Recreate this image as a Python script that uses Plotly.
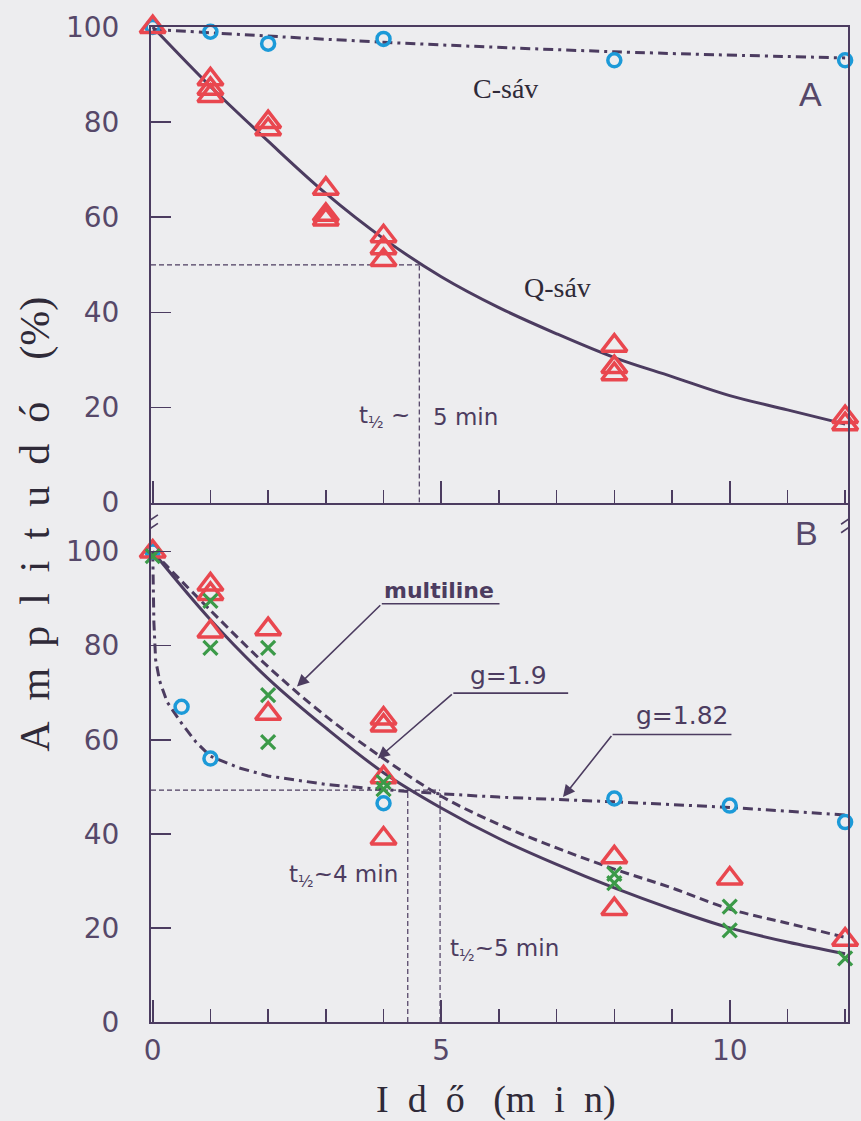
import plotly.graph_objects as go

# ---------------- data ----------------
# Panel A
a_circ_x = [0, 1, 2, 4, 8, 12]
a_circ_y = [100, 99, 96.5, 97.5, 93, 93]
a_tri_x = [0, 1, 1, 1, 2, 2, 3, 3, 3, 4, 4, 4, 8, 8, 8, 12, 12]
a_tri_y = [100, 89, 87, 85.5, 80, 78.5, 66, 60.5, 59.5, 56, 53.5, 51, 33, 28.5, 27, 18, 16.5]
a_cfit_x = [0, 4, 8, 12]
a_cfit_y = [99.5, 96.8, 94.8, 93.5]
a_qfit_x = [0, 1, 2, 3, 4, 5, 6, 7, 8, 9, 10, 11, 12]
a_qfit_y = [100, 87.5, 76, 65, 55.5, 47.5, 41, 35.5, 30.5, 26.5, 22.5, 19.5, 16.5]
a_thalf = 4.62

# Panel B
b_tri_x = [0, 1, 1, 1, 2, 2, 4, 4, 4, 4, 8, 8, 10, 12]
b_tri_y = [100, 93, 91, 83, 83.5, 65.5, 64.5, 63, 52, 39, 35, 24, 30.5, 17.5]
b_x_x = [0, 1, 1, 2, 2, 2, 4, 4, 8, 8, 10, 10, 12]
b_x_y = [99, 89.5, 79.5, 79.5, 69.5, 59.5, 51, 49.5, 31.5, 29.5, 24.5, 19.5, 13.5]
b_circ_x = [0, 0.5, 1, 4, 8, 10, 12]
b_circ_y = [100, 67, 56, 46.5, 47.5, 46, 42.5]
b_g19_x = [0, 1, 2, 3, 4, 5, 6, 7, 8, 9, 10, 11, 12]
b_g19_y = [100, 85.5, 73, 62.5, 53, 45.5, 39, 33.5, 28.5, 24, 20, 17, 14.5]
b_multi_x = [0, 1, 2, 3, 4, 5, 6, 7, 8, 9, 10, 11, 12]
b_multi_y = [100, 87.5, 75.5, 65, 56, 48, 42, 37, 32.5, 28.5, 24, 21, 18]
b_g182_x = [0, 0.02, 0.05, 0.12, 0.25, 0.5, 0.75, 1, 1.5, 2, 3, 4, 5, 6, 8, 10, 12]
b_g182_y = [100, 85, 77, 72.5, 68, 63.5, 59.5, 56.5, 54, 52.3, 50.5, 49.4, 48.5, 47.8, 46.8, 45.6, 44]
b_half_y = 49.3
b_thalf1 = 4.42
b_thalf2 = 4.98

y_ticks = [0, 20, 40, 60, 80, 100]
x_ticks = [0, 5, 10]

# ---------------- styles ----------------
INK = "#4c3c60"
LABEL = "#564869"
DARK = "#2f2a38"
BG = "#ededef"
RED = "#e9474f"
BLUE = "#1c9ad8"
GREEN = "#3b9a48"

fig = go.Figure()

# Panel A curves
fig.add_trace(go.Scatter(x=a_cfit_x, y=a_cfit_y, mode="lines", xaxis="x", yaxis="y",
                         line=dict(color=INK, width=3, dash="10px,5px,3px,5px", shape="spline")))
fig.add_trace(go.Scatter(x=a_qfit_x, y=a_qfit_y, mode="lines", xaxis="x", yaxis="y",
                         line=dict(color=INK, width=3, shape="spline")))
# guide lines A
fig.add_trace(go.Scatter(x=[-0.03, a_thalf], y=[50, 50], mode="lines", xaxis="x", yaxis="y",
                         line=dict(color=INK, width=1.2, dash="5px,3px")))
fig.add_trace(go.Scatter(x=[a_thalf, a_thalf], y=[0, 50], mode="lines", xaxis="x", yaxis="y",
                         line=dict(color=INK, width=1.2, dash="5px,3px")))
# Panel A markers
fig.add_trace(go.Scatter(x=a_circ_x, y=a_circ_y, mode="markers", xaxis="x", yaxis="y", cliponaxis=False,
                         marker=dict(symbol="circle-open", size=13, color=BLUE, line=dict(width=3.5, color=BLUE))))
fig.add_trace(go.Scatter(x=a_tri_x, y=a_tri_y, mode="markers", xaxis="x", yaxis="y", cliponaxis=False,
                         marker=dict(symbol="triangle-up-open", size=22, color=RED, line=dict(width=3.5, color=RED))))

# Panel B curves
fig.add_trace(go.Scatter(x=b_g182_x, y=b_g182_y, mode="lines", xaxis="x2", yaxis="y2",
                         line=dict(color=INK, width=3, dash="10px,5px,3px,5px")))
fig.add_trace(go.Scatter(x=b_multi_x, y=b_multi_y, mode="lines", xaxis="x2", yaxis="y2",
                         line=dict(color=INK, width=3, dash="9px,5px", shape="spline")))
fig.add_trace(go.Scatter(x=b_g19_x, y=b_g19_y, mode="lines", xaxis="x2", yaxis="y2",
                         line=dict(color=INK, width=3, shape="spline")))
# guide lines B
fig.add_trace(go.Scatter(x=[-0.03, b_thalf2], y=[b_half_y, b_half_y], mode="lines", xaxis="x2", yaxis="y2",
                         line=dict(color=INK, width=1.2, dash="5px,3px")))
for tx in (b_thalf1, b_thalf2):
    fig.add_trace(go.Scatter(x=[tx, tx], y=[0, b_half_y], mode="lines", xaxis="x2", yaxis="y2",
                             line=dict(color=INK, width=1.2, dash="5px,3px")))
# Panel B markers
fig.add_trace(go.Scatter(x=b_circ_x, y=b_circ_y, mode="markers", xaxis="x2", yaxis="y2", cliponaxis=False,
                         marker=dict(symbol="circle-open", size=13, color=BLUE, line=dict(width=3.5, color=BLUE))))
fig.add_trace(go.Scatter(x=b_tri_x, y=b_tri_y, mode="markers", xaxis="x2", yaxis="y2", cliponaxis=False,
                         marker=dict(symbol="triangle-up-open", size=22, color=RED, line=dict(width=3.5, color=RED))))
fig.add_trace(go.Scatter(x=b_x_x, y=b_x_y, mode="markers", xaxis="x2", yaxis="y2", cliponaxis=False,
                         marker=dict(symbol="x-thin-open", size=14, color=GREEN, line=dict(width=3.2, color=GREEN))))

tickfont = dict(family="DejaVu Sans", size=28, color=LABEL)
common_x = dict(range=[-0.03, 12.05], showline=True, linecolor=INK, linewidth=2, ticks="inside",
                tickmode="array", tickvals=x_ticks, ticklen=22, tickwidth=1.6, tickcolor=INK,
                minor=dict(dtick=1, ticklen=13, tickwidth=1.6, tickcolor=INK, ticks="inside"),
                showgrid=False, zeroline=False)
common_y = dict(showline=True, linecolor=INK, linewidth=2, ticks="inside", tickmode="array",
                tickvals=y_ticks, ticklen=20, tickwidth=1.6, tickcolor=INK, mirror=True,
                showgrid=False, zeroline=False, tickfont=tickfont, ticklabelstandoff=24)

fig.update_layout(
    width=861, height=1121,
    margin=dict(l=151, r=11, t=26, b=99),
    paper_bgcolor=BG, plot_bgcolor=BG,
    showlegend=False,
    hovermode=False,
    xaxis=dict(**common_x, domain=[0, 1], anchor="y", mirror=True, showticklabels=False),
    yaxis=dict(**common_y, domain=[0.522, 1], range=[0, 100], anchor="x"),
    xaxis2=dict(**common_x, domain=[0, 1], anchor="y2", mirror=False, showticklabels=True,
                tickfont=tickfont, ticklabelstandoff=2),
    yaxis2=dict(**common_y, domain=[0, 0.522], range=[0, 110.4], anchor="x2"),
)

ann = []
serif = "Liberation Serif"
sans = "DejaVu Sans"
# Panel A texts
ann.append(dict(x=6.12, y=87, xref="x", yref="y", text="C-sáv", showarrow=False,
                font=dict(family=serif, size=28, color=DARK)))
ann.append(dict(x=7.01, y=45.3, xref="x", yref="y", text="Q-sáv", showarrow=False,
                font=dict(family=serif, size=28, color=DARK)))
ann.append(dict(x=11.4, y=86, xref="x", yref="y", text="A", showarrow=False,
                font=dict(family="Liberation Sans", size=34, color=LABEL)))
ann.append(dict(x=4.5, y=18, xref="x", yref="y", text="t<sub>½</sub> ~", showarrow=False, xanchor="right",
                font=dict(family=sans, size=23, color=INK)))
ann.append(dict(x=4.82, y=18, xref="x", yref="y", text="5 min", showarrow=False, xanchor="left",
                font=dict(family=sans, size=23, color=INK)))
# Panel B texts
ann.append(dict(x=11.33, y=104, xref="x2", yref="y2", text="B", showarrow=False,
                font=dict(family="Liberation Sans", size=34, color=LABEL)))
ann.append(dict(x=4.28, y=31, xref="x2", yref="y2", text="t<sub>½</sub>~4 min", showarrow=False, xanchor="right",
                font=dict(family=sans, size=23, color=INK)))
ann.append(dict(x=5.12, y=15.3, xref="x2", yref="y2", text="t<sub>½</sub>~5 min", showarrow=False, xanchor="left",
                font=dict(family=sans, size=23, color=INK)))
ann.append(dict(x=4.96, y=91.7, xref="x2", yref="y2", text="<b>multiline</b>", showarrow=False,
                font=dict(family=sans, size=22, color=INK)))
ann.append(dict(x=6.17, y=73.7, xref="x2", yref="y2", text="g=1.9", showarrow=False,
                font=dict(family=sans, size=25, color=INK)))
ann.append(dict(x=9.18, y=65.2, xref="x2", yref="y2", text="g=1.82", showarrow=False,
                font=dict(family=sans, size=25, color=INK)))
# arrows
for head, tail in [((2.5, 71.3), (3.97, 88.9)), ((3.9, 56), (5.21, 69.9)), ((7.11, 47.8), (7.97, 61.1))]:
    ann.append(dict(x=head[0], y=head[1], ax=tail[0], ay=tail[1], xref="x2", yref="y2",
                    axref="x2", ayref="y2", text="", showarrow=True, arrowhead=2, arrowsize=1.5,
                    arrowwidth=1.6, arrowcolor=INK, standoff=0))
# axis titles
sp = "\u00a0\u00a0"
ytitle = sp.join(list("Amplitudó")) + sp + sp + "(%)"
ann.append(dict(x=-0.166, y=0.5, xref="paper", yref="paper", text=ytitle, textangle=-90, showarrow=False,
                xanchor="center", yanchor="middle",
                font=dict(family=serif, size=42, color=DARK)))
xtitle = sp.join(list("Idő")) + "\u00a0\u00a0\u00a0" + "(" + sp.join(list("min")) + ")"
ann.append(dict(x=0.495, y=-0.078, xref="paper", yref="paper", text=xtitle, showarrow=False,
                xanchor="center", yanchor="middle",
                font=dict(family=serif, size=38, color=DARK)))
fig.update_layout(annotations=ann)

# underlines for labels
shapes = []
for x0, x1, yy in [(3.97, 6.01, 88.9), (5.21, 7.2, 69.9), (7.97, 10.03, 61.1)]:
    shapes.append(dict(type="line", xref="x2", yref="y2", x0=x0, x1=x1, y0=yy, y1=yy,
                       line=dict(color=INK, width=1.6)))
# axis break marks
for bx in (-0.03, 12.05):
    for by in (106.8, 105.0):
        shapes.append(dict(type="line", xref="x2", yref="y2", x0=bx - 0.12, x1=bx + 0.12,
                           y0=by - 1.0, y1=by + 1.0, line=dict(color=INK, width=1.6)))
fig.update_layout(shapes=shapes)

fig.write_html(
    "out.html",
    config={"displayModeBar": False, "staticPlot": True},
    post_script="document.body.style.margin='0';document.body.style.padding='0';"
                "document.body.style.background='" + BG + "';"
                "document.documentElement.style.background='" + BG + "';",
)
